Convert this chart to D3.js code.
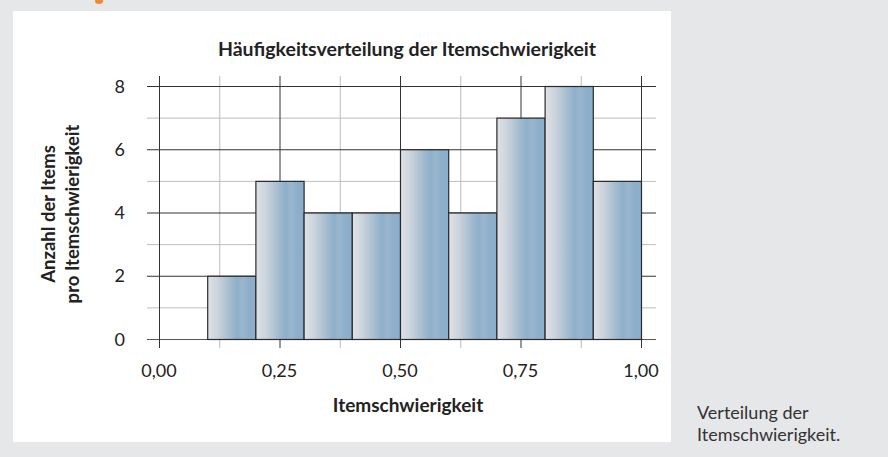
<!DOCTYPE html>
<html>
  <head>
    <meta charset="utf-8">
    <script src="https://d3js.org/d3.v7.min.js"></script>
    <style>
      body {
        margin: 0;
        background-color: #e6e7e9;
      }
      svg {
        display: block;
        font-family: Lato, "Open Sans", sans-serif;
      }
    </style>
  </head>
  <body>
    <script>
      // bins of width 0.1, start value of each bin
      const binStarts = [0.1, 0.2, 0.3, 0.4, 0.5, 0.6, 0.7, 0.8, 0.9]
      const counts = [2, 5, 4, 4, 6, 4, 7, 8, 5]
      const xTicks = [0, 0.25, 0.5, 0.75, 1]
      const xMinor = [0.125, 0.375, 0.625, 0.875]
      const yTicks = [0, 2, 4, 6, 8]
      const yMinor = [1, 3, 5, 7]
      const binWidth = 0.1

      const w = 888
      const h = 457
      const svg = d3.select("body")
        .append("svg")
          .attr("width", w)
          .attr("height", h)

      // small orange mark cut at the top
      svg.append("ellipse")
        .attr("cx", 99)
        .attr("cy", 1)
        .attr("rx", 4)
        .attr("ry", 3)
        .attr("fill", "#f0883a")

      // white panel
      svg.append("rect")
        .attr("x", 13)
        .attr("y", 11)
        .attr("width", 658)
        .attr("height", 431)
        .attr("fill", "#fff")

      const x = d3.scaleLinear().domain([0, 1]).range([159, 641])
      const y = d3.scaleLinear().domain([0, 8]).range([339, 86])

      const defs = svg.append("defs")
      const grad = defs.append("linearGradient")
        .attr("id", "barGrad")
        .attr("x1", "0%").attr("x2", "100%")
        .attr("y1", "0%").attr("y2", "0%")
      const stops = [
        [0, "#e0e2e6"],
        [0.2, "#cdd4dc"],
        [0.5, "#9fb9ce"],
        [0.62, "#8eafca"],
        [0.72, "#9ab6cd"],
        [0.85, "#8dafcb"],
        [1, "#8caeca"]
      ]
      grad.selectAll("stop")
        .data(stops)
        .enter()
        .append("stop")
          .attr("offset", (d) => d[0])
          .attr("stop-color", (d) => d[1])

      const grid = svg.append("g")

      // minor grid lines
      grid.selectAll(".hminor")
        .data(yMinor)
        .enter()
        .append("line")
          .attr("x1", 147).attr("x2", 656)
          .attr("y1", (d) => y(d) + 0.5).attr("y2", (d) => y(d) + 0.5)
          .attr("stroke", "#bdbdbd")
      grid.selectAll(".vminor")
        .data(xMinor)
        .enter()
        .append("line")
          .attr("y1", 76).attr("y2", 348)
          .attr("x1", (d) => x(d) + 0.5).attr("x2", (d) => x(d) + 0.5)
          .attr("stroke", "#bdbdbd")

      // major grid lines
      grid.selectAll(".hmajor")
        .data(yTicks)
        .enter()
        .append("line")
          .attr("x1", 147).attr("x2", 656)
          .attr("y1", (d) => y(d) + 0.5).attr("y2", (d) => y(d) + 0.5)
          .attr("stroke", (d) => d === 0 ? "#555" : "#333")
      grid.selectAll(".vmajor")
        .data(xTicks)
        .enter()
        .append("line")
          .attr("y1", 76).attr("y2", 348)
          .attr("x1", (d) => x(d) + 0.5).attr("x2", (d) => x(d) + 0.5)
          .attr("stroke", "#333")

      // bars
      svg.selectAll(".bar")
        .data(binStarts)
        .enter()
        .append("rect")
          .attr("class", "bar")
          .attr("x", (d) => x(d) + 0.5)
          .attr("y", (d, i) => y(counts[i]) + 0.5)
          .attr("width", (d) => x(d + binWidth) - x(d))
          .attr("height", (d, i) => y(0) - y(counts[i]))
          .attr("fill", "url(#barGrad)")
          .attr("stroke", "#2a2a2a")
          .attr("stroke-width", 1.2)

      // tick labels
      svg.selectAll(".ylab")
        .data(yTicks)
        .enter()
        .append("text")
          .attr("x", 125)
          .attr("y", (d) => y(d) + 6.5)
          .attr("text-anchor", "end")
          .attr("font-size", 18)
          .attr("fill", "#222")
          .text((d) => d)

      const fmt = (d) => d3.format(".2f")(d).replace(".", ",")
      svg.selectAll(".xlab")
        .data(xTicks)
        .enter()
        .append("text")
          .attr("x", (d) => x(d))
          .attr("y", 377)
          .attr("text-anchor", "middle")
          .attr("font-size", 18)
          .attr("fill", "#222")
          .text(fmt)

      // titles
      svg.append("text")
        .attr("x", 407)
        .attr("y", 56)
        .attr("text-anchor", "middle")
        .attr("font-size", 19.5)
        .attr("font-weight", "bold")
        .attr("fill", "#222")
        .text("Häufigkeitsverteilung der Itemschwierigkeit")

      svg.append("text")
        .attr("x", 408)
        .attr("y", 412)
        .attr("text-anchor", "middle")
        .attr("font-size", 19)
        .attr("font-weight", "bold")
        .attr("fill", "#222")
        .text("Itemschwierigkeit")

      const yTitle = svg.append("text")
        .attr("transform", "translate(55,214) rotate(-90)")
        .attr("text-anchor", "middle")
        .attr("font-size", 18.5)
        .attr("font-weight", "bold")
        .attr("fill", "#222")
      yTitle.append("tspan").attr("x", 0).attr("y", 0).text("Anzahl der Items")
      yTitle.append("tspan").attr("x", 0).attr("y", 24).text("pro Itemschwierigkeit")

      // caption
      const cap = svg.append("text")
        .attr("font-size", 18)
        .attr("fill", "#333")
      cap.append("tspan").attr("x", 697).attr("y", 419).text("Verteilung der")
      cap.append("tspan").attr("x", 697).attr("y", 441).text("Itemschwierigkeit.")
    </script>
  </body>
</html>
